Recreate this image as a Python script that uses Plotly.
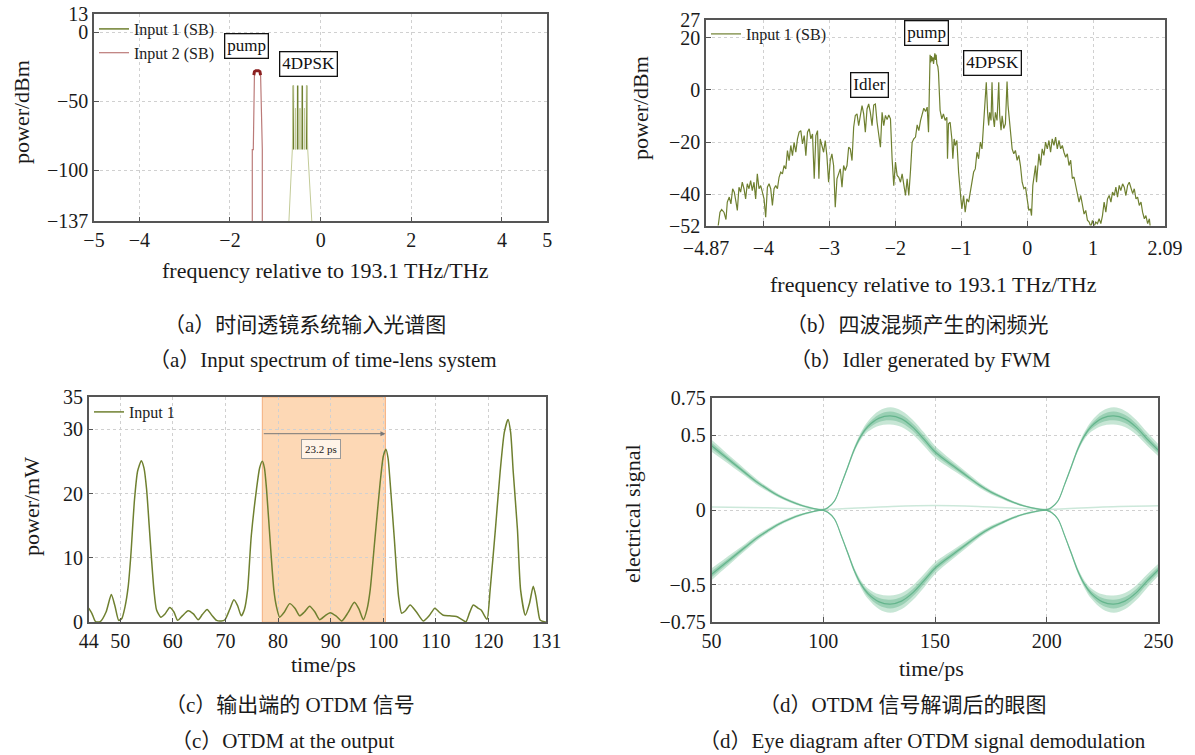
import plotly.graph_objects as go

W, H = 1195, 755
OFF = 0  # page body margin is removed by the post script below
FONT = "Liberation Serif, Times New Roman, Noto Sans CJK SC, serif"

# ---------------- (a) input spectrum ----------------
a_sig_peak_x = [-0.603, -0.507, -0.405, -0.308]
a_sig_top = -38.5
a_sig_floor = -85
a_sig_mid_x = [-0.555, -0.456, -0.357]
a_sig_mid_top = -55
a_sig_env_x = [-0.70, -0.625, -0.603, None, -0.308, -0.285, -0.195]
a_sig_env_y = [-137, -85, -38.5, None, -38.5, -85, -137]
a_pump_x = [-1.508, -1.508, -1.486, -1.475, -1.46, -1.40, -1.34, -1.325, -1.30, -1.287, -1.287]
a_pump_y = [-137, -85, -85, -31, -28.5, -27.8, -28.5, -31, -85, -85, -137]
a_pump_top_x = [-1.475, -1.46, -1.43, -1.40, -1.37, -1.34, -1.325]
a_pump_top_y = [-31, -28.5, -27.9, -27.7, -27.9, -28.5, -31]

# ---------------- (b) FWM spectrum ----------------
b_freq = [
    -4.70, -4.683, -4.658, -4.633, -4.598, -4.567, -4.547, -4.517, -4.492, -4.466,
    -4.441, -4.415, -4.395, -4.37, -4.345, -4.32, -4.294, -4.269, -4.244, -4.218,
    -4.193, -4.168, -4.142, -4.117, -4.092, -4.066, -4.041, -4.015, -3.99, -3.965,
    -3.939, -3.914, -3.889, -3.863, -3.838, -3.813, -3.787, -3.762, -3.737, -3.711,
    -3.686, -3.66, -3.635, -3.61, -3.584, -3.559, -3.534, -3.508, -3.483, -3.458,
    -3.432, -3.407, -3.381, -3.356, -3.331, -3.305, -3.28, -3.255, -3.229, -3.204,
    -3.179, -3.158, -3.138, -3.113, -3.087, -3.062, -3.037, -3.011, -2.986, -2.961,
    -2.935, -2.91, -2.884, -2.859, -2.834, -2.808, -2.783, -2.758, -2.732, -2.707,
    -2.682, -2.656, -2.631, -2.606, -2.58, -2.555, -2.53, -2.504, -2.479, -2.454,
    -2.428, -2.403, -2.378, -2.352, -2.327, -2.302, -2.276, -2.251, -2.225, -2.2,
    -2.175, -2.149, -2.124, -2.099, -2.073, -2.048, -2.023, -1.997, -1.972, -1.947,
    -1.921, -1.896, -1.871, -1.845, -1.82, -1.795, -1.769, -1.744, -1.719, -1.693,
    -1.668, -1.643, -1.617, -1.592, -1.567, -1.541, -1.516, -1.496, -1.485, -1.472,
    -1.462, -1.452, -1.44, -1.43, -1.42, -1.41, -1.40, -1.39, -1.38, -1.37,
    -1.355, -1.345, -1.333, -1.32, -1.294, -1.27, -1.244, -1.218, -1.208, -1.193,
    -1.168, -1.142, -1.127, -1.107, -1.09, -1.066, -1.04, -1.025, -1.005, -0.99,
    -0.964, -0.94, -0.914, -0.888, -0.863, -0.838, -0.812, -0.787, -0.761, -0.736,
    -0.71, -0.685, -0.66, -0.645, -0.62, -0.6, -0.584, -0.568, -0.548, -0.533,
    -0.518, -0.497, -0.482, -0.457, -0.431, -0.416, -0.396, -0.38, -0.355, -0.33,
    -0.305, -0.29, -0.27, -0.244, -0.228, -0.203, -0.178, -0.152, -0.127, -0.102,
    -0.076, -0.05, -0.025, 0.0, 0.025, 0.05, 0.066, 0.086, 0.1, 0.127,
    0.142, 0.162, 0.178, 0.203, 0.228, 0.254, 0.279, 0.305, 0.33, 0.355,
    0.38, 0.406, 0.431, 0.457, 0.482, 0.508, 0.533, 0.558, 0.584, 0.609,
    0.634, 0.66, 0.685, 0.71, 0.736, 0.761, 0.787, 0.812, 0.838, 0.863,
    0.888, 0.914, 0.94, 0.965, 0.99, 1.015, 1.04, 1.066, 1.091, 1.117,
    1.142, 1.167, 1.193, 1.218, 1.244, 1.27, 1.294, 1.32, 1.345, 1.37,
    1.396, 1.42, 1.447, 1.472, 1.497, 1.523, 1.548, 1.574, 1.6, 1.624,
    1.65, 1.675, 1.7, 1.726, 1.75, 1.777, 1.8, 1.827, 1.853, 1.868,
]
b_power = [
    -55, -52, -46.9, -45.9, -46.9, -49.7, -43, -41.1, -43.7, -37.9,
    -39.2, -43, -46.2, -37.3, -39.2, -35.4, -37.9, -41.8, -36, -37.9,
    -34.8, -38.6, -35.4, -41.8, -32.2, -37.9, -36.7, -39.2, -41.8, -48.8,
    -37.3, -36, -37.9, -44.3, -37.9, -36.7, -37.9, -33.5, -31.5, -32.2,
    -29, -30.3, -23.3, -27.1, -21.3, -25.2, -20.1, -23.9, -18.8, -16.2,
    -15.6, -20.7, -17.5, -25.2, -16.2, -14.9, -18.8, -16.9, -34.1, -17.5,
    -15.6, -34.1, -18.8, -21.3, -23.9, -19.4, -25.2, -35.4, -27.1, -24.5,
    -29, -45, -34.1, -32.2, -30.3, -37.3, -29, -30.9, -29, -22,
    -22.6, -27.1, -14.3, -9.8, -9.2, -13.7, -10.5, -6, -9.2, -16.2,
    -7.3, -5.4, -8.6, -13.7, -5.8, -5.4, -12.4, -17.5, -22, -8.6,
    -13.7, -9.8, -11.4, -9.6, -11.1, -26.4, -36.7, -27.7, -32.8, -33.5,
    -35.4, -32.2, -36.7, -40.5, -34.1, -40.5, -30.9, -20.1, -18.8, -18.1,
    -13.4, -15.6, -11.8, -9.2, -7, -8.3, -6.6, -16.2, 3, 13.5,
    10.5, 13, 11, 12.5, 10, 12.8, 14, 11.5, 13.5, 10,
    9, 6.8, 0.4, -7.9, -11.1, -9.2, -11.7, -10.5, -26.4, -13,
    -12.4, -18.8, -26.4, -18.8, -21.3, -19.4, -31.5, -37.3, -41.8, -45.6,
    -40.5, -46.9, -41.8, -43, -39.2, -35.4, -31.5, -30.3, -23.9, -26.4,
    -20, -22.6, -11.1, -7.3, 2.9, -8.6, -13.6, -8.6, -11.7, 2.9,
    -9.9, -14.2, -8.6, -11.7, 2.9, -9.9, -15.5, -9.9, -14.8, -13,
    3.2, -6, -12.4, -17.5, -22.6, -24.5, -23.2, -27, -25.1, -29,
    -35.4, -37.9, -37.3, -41.8, -46.2, -45.6, -48.2, -36.6, -34, -29,
    -35.4, -27.7, -24.5, -29, -22.6, -25.1, -20, -22.6, -19.4, -23.9,
    -18.8, -21.3, -18.1, -22.6, -19.4, -22.6, -21.3, -23.9, -25.8, -24.5,
    -29, -27, -34, -33.4, -36.6, -39.2, -43, -40.5, -45, -47.6,
    -46.2, -50, -50.7, -52.5, -50, -52.5, -50.7, -51.3, -49.4, -51.3,
    -48.2, -43, -46.9, -41.8, -40.5, -43, -39.2, -40.5, -37.3, -41.1,
    -36.6, -38.6, -36, -37.3, -40.5, -36.6, -35.4, -37.9, -39.8, -37.9,
    -41.8, -41.1, -44.3, -43, -46.9, -49.4, -48.2, -51.3, -49.4, -53,
]
assert len(b_freq) == len(b_power)

# ---------------- (c) OTDM output ----------------
c_time = [
    44.0, 44.6, 45.3, 46.2, 47.3, 48.3, 49.0, 49.7, 50.3, 50.9,
    51.5, 52.0, 52.7, 53.3, 54.0, 54.5, 55.0, 55.5, 55.9, 56.4,
    56.9, 57.7, 58.5, 59.4, 60.2, 60.9, 61.8, 62.9, 63.9, 64.8,
    65.6, 66.5, 67.4, 68.3, 69.2, 69.9, 70.8, 71.6, 72.3, 73.0,
    73.6, 74.2, 74.9, 75.9, 76.5, 77.0, 77.4, 77.8, 78.6, 79.2,
    79.7, 80.3, 81.2, 82.2, 83.2, 84.1, 85.0, 86.0, 87.0, 87.9,
    88.9, 89.9, 91.0, 92.1, 93.3, 94.5, 95.4, 96.2, 96.9, 97.5,
    98.4, 99.4, 100.0, 100.5, 100.9, 101.3, 102.1, 102.9, 103.5, 104.2,
    105.1, 106.3, 107.6, 108.7, 109.8, 110.6, 111.4, 112.6, 113.9, 114.8,
    115.7, 116.4, 117.1, 118.0, 118.6, 119.7, 120.3, 121.3, 122.2, 123.0,
    123.7, 124.2, 124.7, 125.5, 126.1, 127.0, 127.8, 128.5, 129.0, 129.4,
    129.8, 131.0,
]
c_power = [
    2.2, 1.4, 0.1, 0.1, 1.6, 4.3, 2.5, 0.3, 0.6, 2.4,
    5.5, 10.3, 19.0, 23.5, 25.1, 24.0, 20.7, 15.0, 10.3, 5.0,
    1.9, 0.8, 1.3, 2.3, 1.6, 0.3, 1.0, 1.8, 1.3, 0.4,
    1.2, 2.0, 1.1, 0.3, 0.2, 0.4, 2.0, 3.5, 2.6, 1.0,
    2.0, 5.0, 13.4, 20.7, 24.0, 25.0, 24.0, 20.7, 11.3, 5.0,
    2.4, 0.8, 1.6, 2.9, 2.2, 1.0, 1.6, 2.5, 1.6, 0.4,
    1.0, 1.5, 1.0, 0.2, 1.5, 3.1, 2.0, 0.4, 2.0, 5.0,
    12.9, 21.7, 25.8, 26.9, 25.5, 21.7, 12.9, 4.0, 1.4, 1.8,
    2.7, 1.6, 0.2, 1.0, 2.2, 1.6, 1.1, 1.0, 0.9, 0.5,
    0.1, 1.5, 2.7, 2.2, 1.9, 0.46, 5.0, 14.4, 23.3, 29.5,
    31.5, 29.5, 23.3, 14.4, 5.0, 1.1, 3.0, 5.6, 4.0, 1.9,
    0.36, 0.0,
]
assert len(c_time) == len(c_power)
c_window = [77.0, 100.4]
c_window_label = "23.2 ps"

# ---------------- (d) eye diagram ----------------
d_time = [50, 55, 60, 65, 70, 75, 80, 85, 90, 95, 98, 100, 102, 105, 108, 111, 114, 117,
          120, 125, 130, 135, 140, 145, 150, 155, 160, 165, 170, 175, 180, 185, 190, 195,
          198, 200, 202, 205, 208, 211, 214, 217, 220, 225, 230, 235, 240, 245, 250]
d_center = [0.43, 0.37, 0.31, 0.25, 0.19, 0.14, 0.095, 0.06, 0.032, 0.012, 0.003, 0.002, 0.015,
            0.06, 0.17, 0.29, 0.41, 0.50, 0.56, 0.615, 0.63, 0.61, 0.555, 0.475, 0.39, 0.33,
            0.275, 0.22, 0.165, 0.12, 0.085, 0.052, 0.027, 0.01, 0.003, 0.002, 0.015, 0.06,
            0.17, 0.29, 0.41, 0.50, 0.56, 0.615, 0.63, 0.61, 0.555, 0.475, 0.40]
d_halfwidth = [0.04, 0.034, 0.028, 0.023, 0.019, 0.015, 0.012, 0.01, 0.008, 0.006, 0.005, 0.005,
               0.005, 0.007, 0.01, 0.013, 0.018, 0.025, 0.035, 0.05, 0.058, 0.055, 0.05, 0.045,
               0.04, 0.034, 0.028, 0.023, 0.018, 0.014, 0.011, 0.009, 0.007, 0.006, 0.005, 0.005,
               0.005, 0.007, 0.01, 0.013, 0.018, 0.025, 0.035, 0.05, 0.058, 0.055, 0.05, 0.045, 0.04]
d_floor_time = [50, 75, 100, 125, 150, 175, 200, 225, 250]
d_floor_val = [0.02, 0.015, 0.005, 0.02, 0.03, 0.02, 0.005, 0.02, 0.028]

OLIVE = "#6f8030"
OLIVE_L = "#c3cb98"
PUMP = "#bb7a78"
PUMP_D = "#8b1f1f"
GREEN = "rgba(92,176,134,0.85)"

fig = go.Figure()

# (a)
sx, sy = [], []
for px in a_sig_peak_x:
    sx += [px - 0.003, px, px + 0.003, None]
    sy += [a_sig_floor, a_sig_top, a_sig_floor, None]
mx, my = [], []
for px in a_sig_mid_x:
    mx += [px - 0.004, px, px + 0.004, None]
    my += [a_sig_floor, a_sig_mid_top, a_sig_floor, None]
fig.add_trace(go.Scatter(x=sx, y=sy, mode="lines", name="Input 1 (SB)", legend="legend",
                         line=dict(color=OLIVE, width=1.5), xaxis="x", yaxis="y"))
fig.add_trace(go.Scatter(x=a_pump_x, y=a_pump_y, mode="lines", name="Input 2 (SB)", legend="legend",
                         line=dict(color=PUMP, width=1.2), xaxis="x", yaxis="y"))
fig.add_trace(go.Scatter(x=a_sig_env_x + [None] + mx, y=a_sig_env_y + [None] + my, mode="lines",
                         line=dict(color=OLIVE_L, width=1), showlegend=False, xaxis="x", yaxis="y"))
fig.add_trace(go.Scatter(x=a_pump_top_x, y=a_pump_top_y, mode="lines", showlegend=False,
                         line=dict(color=PUMP_D, width=3), xaxis="x", yaxis="y"))

# (b)
fig.add_trace(go.Scatter(x=b_freq, y=b_power, mode="lines", name="Input 1 (SB)", legend="legend2",
                         line=dict(color=OLIVE, width=1.2), xaxis="x2", yaxis="y2"))

# (c)
fig.add_trace(go.Scatter(x=c_time, y=c_power, mode="lines", name="Input 1", legend="legend3",
                         line=dict(color=OLIVE, width=1.5, shape="spline", smoothing=0.6),
                         xaxis="x3", yaxis="y3"))

# (d) eye bands
for sign in (1, -1):
    for frac, col in ((1.0, "rgba(130,200,162,0.45)"), (0.5, "rgba(100,182,140,0.45)")):
        lo = [sign * (c - frac * h) for c, h in zip(d_center, d_halfwidth)]
        hi = [sign * (c + frac * h) for c, h in zip(d_center, d_halfwidth)]
        fig.add_trace(go.Scatter(x=d_time, y=lo, mode="lines", line=dict(width=0, shape="spline"),
                                 showlegend=False, hoverinfo="skip", xaxis="x4", yaxis="y4"))
        fig.add_trace(go.Scatter(x=d_time, y=hi, mode="lines", line=dict(width=0, shape="spline"),
                                 fill="tonexty", fillcolor=col, showlegend=False, hoverinfo="skip",
                                 xaxis="x4", yaxis="y4"))
    fig.add_trace(go.Scatter(x=d_time, y=[sign * c for c in d_center], mode="lines",
                             line=dict(color=GREEN, width=1.2, shape="spline"), showlegend=False,
                             xaxis="x4", yaxis="y4"))
fig.add_trace(go.Scatter(x=d_floor_time, y=d_floor_val, mode="lines",
                         line=dict(color="rgba(110,190,150,0.35)", width=1.5, shape="spline"),
                         showlegend=False, xaxis="x4", yaxis="y4"))


def px_x(p):
    return (p - OFF) / W


def px_y(p):
    return 1 - (p - OFF) / H


def axis(dom, rng, tickvals, anchor, ticktext=None, standoff=None):
    d = dict(domain=dom, range=rng, tickvals=tickvals, anchor=anchor, automargin=False,
             ticks="inside", ticklen=5, tickcolor="#555", tickwidth=1.2,
             showline=True, mirror=True, linecolor="#555", linewidth=1.5,
             showgrid=True, gridcolor="#d0d0d0", griddash="dot", gridwidth=1,
             zeroline=False, tickfont=dict(family=FONT, size=20, color="#1a1a1a"))
    if ticktext is not None:
        d["ticktext"] = ticktext
    if standoff is not None:
        d["ticklabelstandoff"] = standoff
    return d


layout = dict(
    template="none",
    width=W, height=H, margin=dict(l=0, r=0, t=0, b=0, autoexpand=False),
    paper_bgcolor="white", plot_bgcolor="white",
    font=dict(family=FONT, size=18, color="#1a1a1a"),
    xaxis=axis([px_x(94), px_x(547.3)], [-5, 5], [-5, -4, -2, 0, 2, 4, 5], "y"),
    yaxis=axis([px_y(221.3), px_y(14.4)], [-137, 13], [13, 0, -50, -100, -137], "x"),
    xaxis2=axis([px_x(706), px_x(1165)], [-4.87, 2.09], [-4.87, -4, -3, -2, -1, 0, 1, 2.09], "y2",
                standoff=4),
    yaxis2=axis([px_y(225.5), px_y(19.5)], [-52, 27], [27, 20, 0, -20, -40, -52], "x2"),
    xaxis3=axis([px_x(88.7), px_x(546.4)], [44, 131], [44, 50, 60, 70, 80, 90, 100, 110, 120, 131], "y3"),
    yaxis3=axis([px_y(622.3), px_y(397)], [0, 35], [0, 10, 20, 30, 35], "x3"),
    xaxis4=axis([px_x(711.6), px_x(1158.4)], [50, 250], [50, 100, 150, 200, 250], "y4"),
    yaxis4=axis([px_y(622), px_y(398)], [-0.75, 0.75], [-0.75, -0.5, 0, 0.5, 0.75], "x4",
                ["−0.75", "−0.5", "0", "0.5", "0.75"]),
)

leg = dict(bgcolor="rgba(0,0,0,0)", borderwidth=0, font=dict(family=FONT, size=16, color="#222"),
           xanchor="left", yanchor="top", itemwidth=30, tracegroupgap=0, traceorder="normal")
layout["legend"] = dict(leg, x=px_x(94), y=px_y(12))
layout["legend2"] = dict(leg, x=px_x(706), y=px_y(17))
layout["legend3"] = dict(leg, x=px_x(89), y=px_y(395))

fig.update_layout(**layout)

# shaded window in (c)
fig.add_shape(type="rect", xref="x3", yref="y3", x0=c_window[0], x1=c_window[1], y0=0, y1=35,
              fillcolor="rgba(252,206,162,0.8)", line=dict(color="rgba(240,150,90,0.7)", width=1),
              layer="below")

ann = []
box = dict(showarrow=False, bgcolor="white", bordercolor="#111", borderwidth=1.3, borderpad=2,
           font=dict(family=FONT, size=17, color="#111"))
ann.append(dict(box, text="pump", x=-1.625, y=-9.8, xref="x", yref="y"))
ann.append(dict(box, text="4DPSK", x=-0.279, y=-22.8, xref="x", yref="y"))
ann.append(dict(box, text="Idler", x=-2.394, y=1.9, xref="x2", yref="y2"))
ann.append(dict(box, text="pump", x=-1.527, y=21.8, xref="x2", yref="y2"))
ann.append(dict(box, text="4DPSK", x=-0.524, y=10.3, xref="x2", yref="y2"))

# arrow and label in (c)
ann.append(dict(x=c_window[1], y=29.3, ax=c_window[0], ay=29.3, xref="x3", yref="y3",
                axref="x3", ayref="y3", showarrow=True, arrowhead=2, arrowsize=1,
                arrowwidth=1, arrowcolor="#777", text=""))
ann.append(dict(x=(c_window[0] + c_window[1]) / 2 - 0.5, y=26.9, xref="x3", yref="y3",
                text=c_window_label, showarrow=False, bgcolor="rgba(255,248,240,0.85)",
                bordercolor="#999", borderwidth=1, borderpad=3,
                font=dict(family=FONT, size=11, color="#222")))


def ptext(text, x, y, size=22, angle=0):
    return dict(text=text, x=px_x(x), y=px_y(y), xref="paper", yref="paper", showarrow=False,
                xanchor="center", yanchor="middle", textangle=angle,
                font=dict(family=FONT, size=size, color="#1a1a1a"))


ann.append(ptext("frequency relative to 193.1 THz/THz", 325, 270))
ann.append(ptext("frequency relative to 193.1 THz/THz", 933, 285))
ann.append(ptext("time/ps", 323, 664))
ann.append(ptext("time/ps", 932, 668))
ann.append(ptext("power/dBm", 22, 112, angle=-90))
ann.append(ptext("power/dBm", 641, 108, angle=-90))
ann.append(ptext("power/mW", 31, 507, angle=-90))
ann.append(ptext("electrical signal", 632, 514, angle=-90))

# captions
ann.append(ptext("（a）时间透镜系统输入光谱图", 305, 325, size=21))
ann.append(ptext("（a）Input spectrum of time-lens system", 323, 360, size=21))
ann.append(ptext("（b）四波混频产生的闲频光", 917, 325, size=21))
ann.append(ptext("（b）Idler generated by FWM", 920, 360, size=21))
ann.append(ptext("（c）输出端的 OTDM 信号", 290, 705, size=21))
ann.append(ptext("（c）OTDM at the output", 283, 741, size=21))
ann.append(ptext("（d）OTDM 信号解调后的眼图", 903, 705, size=21))
ann.append(ptext("（d）Eye diagram after OTDM signal demodulation", 922, 741, size=21))

fig.update_layout(annotations=ann)

fig.write_html(
    "out.html",
    config={"displayModeBar": False},
    post_script="document.body.style.margin='0';document.body.style.overflow='hidden';",
)
